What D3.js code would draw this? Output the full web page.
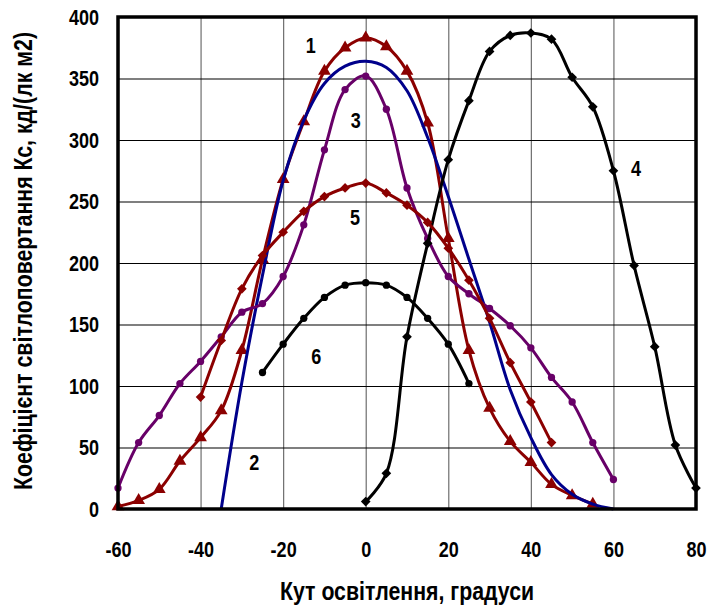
<!DOCTYPE html>
<html>
<head>
<meta charset="utf-8">
<script src="https://cdn.jsdelivr.net/npm/d3@7"></script>
<style>
  body { margin: 0; background: #fff; }
  text { font-family: "Liberation Sans", Arial, sans-serif; font-weight: bold; }
</style>
</head>
<body>
<div class="chart"></div>
<script>
// angle values (degrees) and Kc values
var x1 = [-60, -55, -50, -45, -40, -35, -30, -25, -20, -15, -10, -5, 0, 5, 10, 15, 20, 25, 30, 35, 40, 45, 50, 55];
var y1 = [2, 7, 16, 39, 58, 80, 129, 203, 268, 315, 356, 375, 383, 376, 356, 314, 220, 129, 82, 55, 38, 20, 11, 4];

var x2 = [-35, -30, -25, -20, -15, -10, -5, 0, 5, 10, 15, 20, 25, 30, 35, 40, 45, 50, 55, 60];
var y2 = [0, 103, 190, 267, 316, 346, 360, 364, 359, 340, 302, 254, 203, 152, 97, 58, 28, 12, 4, 0];

var x3 = [-60, -55, -50, -45, -40, -35, -30, -25, -20, -15, -10, -5, 0, 5, 10, 15, 20, 25, 30, 35, 40, 45, 50, 55, 60];
var y3 = [17, 54, 76, 102, 120, 140, 160, 167, 189, 231, 292, 341, 352, 325, 261, 220, 189, 175, 163, 149, 131, 107, 87, 54, 24];

var x4 = [0, 5, 10, 15, 20, 25, 30, 35, 40, 45, 50, 55, 60, 65, 70, 75, 80];
var y4 = [6, 29, 140, 216, 284, 332, 372, 385, 387, 382, 351, 327, 275, 198, 132, 52, 17];

var x5 = [-40, -35, -30, -25, -20, -15, -10, -5, 0, 5, 10, 15, 20, 25, 30, 35, 40, 45];
var y5 = [91, 137, 179, 206, 225, 242, 254, 261, 265, 257, 247, 233, 212, 186, 155, 119, 87, 54];

var x6 = [-25, -20, -15, -10, -5, 0, 5, 10, 15, 20, 25];
var y6 = [111, 134, 155, 172, 182, 184, 182, 172, 155, 134, 102];

var xTicks = [-60, -40, -20, 0, 20, 40, 60, 80];
var yTicks = [0, 50, 100, 150, 200, 250, 300, 350, 400];

var curveNames = ["1", "2", "3", "4", "5", "6"];
var labelX = [-13.3, -27, -2.4, 65.5, -2.6, -12];
var labelY = [377, 38, 316, 277, 237, 124];

function zip(xs, ys) {
  return xs.map(function(d, i) { return {x: d, y: ys[i]}; });
}

var series = [
  {name: "1", pts: zip(x1, y1), color: "#8b0000", marker: "triangle"},
  {name: "2", pts: zip(x2, y2), color: "#00008b", marker: "none"},
  {name: "3", pts: zip(x3, y3), color: "#680068", marker: "circle"},
  {name: "4", pts: zip(x4, y4), color: "#000000", marker: "diamond"},
  {name: "5", pts: zip(x5, y5), color: "#8b0000", marker: "diamond"},
  {name: "6", pts: zip(x6, y6), color: "#000000", marker: "circle"}
];

// no narrow font installed, so squeeze the bold face sideways
var squeeze = "scale(0.82,1)";

var margin = {top: 17, right: 13, bottom: 98, left: 118},
    width = 709 - margin.left - margin.right,
    height = 607 - margin.top - margin.bottom;

var root = d3.select(".chart")
  .append("svg")
    .attr("width", 709)
    .attr("height", 607);

var svg = root.append("g")
    .attr("transform", "translate(" + margin.left + "," + margin.top + ")");

var x = d3.scaleLinear().domain([-60, 80]).range([0, width]);
var y = d3.scaleLinear().domain([0, 400]).range([height, 0]);

// vertical grid
svg.append("g")
  .attr("transform", "translate(0," + height + ")")
  .call(d3.axisBottom(x).tickValues(xTicks).tickSize(-height).tickFormat(""))
  .call(function(g) {
    g.select(".domain").remove();
    g.selectAll("line").attr("stroke", "#6e6e6e").attr("stroke-width", 1.2);
  });

// horizontal grid
svg.append("g")
  .call(d3.axisLeft(y).tickValues(yTicks).tickSize(-width).tickFormat(""))
  .call(function(g) {
    g.select(".domain").remove();
    g.selectAll("line").attr("stroke", "#000").attr("stroke-width", 1.2);
  });

// tick labels
svg.append("g")
  .call(d3.axisLeft(y).tickValues(yTicks).tickSize(0).tickFormat(String))
  .call(function(g) {
    g.select(".domain").remove();
    g.selectAll("text").style("font-size", "22px").attr("fill", "#000")
      .attr("x", 0)
      .attr("transform", "translate(-19,0) " + squeeze);
  });

svg.append("g")
  .attr("transform", "translate(0," + height + ")")
  .call(d3.axisBottom(x).tickValues(xTicks).tickSize(0).tickFormat(String))
  .call(function(g) {
    g.select(".domain").remove();
    g.selectAll("text").style("font-size", "22px").attr("fill", "#000")
      .attr("y", 0).attr("dy", 0)
      .attr("transform", "translate(0,48) " + squeeze);
  });

// curves
var line = d3.line()
  .x(function(d) { return x(d.x); })
  .y(function(d) { return y(d.y); })
  .curve(d3.curveCatmullRom);

series.forEach(function(s) {
  svg.append("path")
    .datum(s.pts)
    .attr("fill", "none")
    .attr("stroke", s.color)
    .attr("stroke-width", 3)
    .attr("stroke-linejoin", "round")
    .attr("d", line);

  if (s.marker === "none") return;
  var sym = s.marker === "triangle" ? d3.symbolTriangle
          : s.marker === "diamond" ? d3.symbolDiamond2 : d3.symbolCircle;
  var size = s.marker === "triangle" ? 70 : s.marker === "diamond" ? 60 : 42;
  svg.selectAll(null)
    .data(s.pts)
    .enter()
    .append("path")
    .attr("d", d3.symbol().type(sym).size(size))
    .attr("transform", function(d) { return "translate(" + x(d.x) + "," + y(d.y) + ")"; })
    .attr("fill", s.color);
});

// frame
svg.append("rect")
  .attr("width", width)
  .attr("height", height)
  .attr("fill", "none")
  .attr("stroke", "#000")
  .attr("stroke-width", 3.5);

// curve numbers
svg.selectAll(".num")
  .data(curveNames)
  .enter()
  .append("text")
  .attr("class", "num")
  .attr("transform", function(d, i) {
    return "translate(" + x(labelX[i]) + "," + y(labelY[i]) + ") " + squeeze;
  })
  .attr("text-anchor", "middle")
  .attr("dy", "0.36em")
  .style("font-size", "22px")
  .text(function(d) { return d; });

// axis titles
root.append("text")
  .attr("transform", "translate(" + (margin.left + width / 2) + ",600) " + squeeze)
  .attr("text-anchor", "middle")
  .style("font-size", "26px")
  .text("Кут освітлення, градуси");

root.append("text")
  .attr("transform", "translate(32,261) rotate(-90) " + squeeze)
  .attr("text-anchor", "middle")
  .style("font-size", "26px")
  .text("Коефіцієнт світлоповертання Кс, кд/(лк м2)");
</script>
</body>
</html>
